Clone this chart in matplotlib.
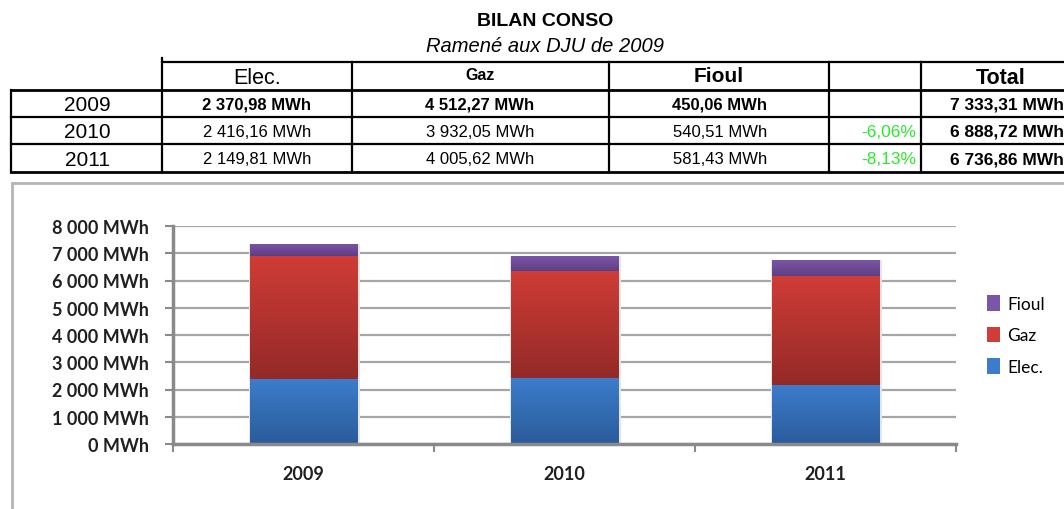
import numpy as np
import matplotlib
matplotlib.use('Agg')
import matplotlib.pyplot as plt
from matplotlib.patches import Rectangle
from matplotlib.lines import Line2D
from matplotlib.colors import LinearSegmentedColormap

# data
years = ['2009', '2010', '2011']
elec = [2370.98, 2416.16, 2149.81]
gaz = [4512.27, 3932.05, 4005.62]
fioul = [450.06, 540.51, 581.43]
evol = ['', '-6,06%', '-8,13%']
y_ticks = [0, 1000, 2000, 3000, 4000, 5000, 6000, 7000, 8000]


def fr(v):
    # french number format: 2 370,98
    s = f'{v:,.2f}'
    return s.replace(',', ' ').replace('.', ',')


W, H = 1064, 510
fig = plt.figure(figsize=(W / 100, H / 100), dpi=100)
fig.patch.set_facecolor('white')


def px(x, y):
    return x / W, 1 - y / H


# ---- table part ----
tf = 'Liberation Sans'
fig.text(*px(545, 21), 'BILAN CONSO', ha='center', va='center',
         fontsize=14, fontweight='bold', family=tf)
fig.text(*px(545, 47), 'Ramené aux DJU de 2009', ha='center', va='center',
         fontsize=14.5, style='italic', family=tf)

cols = [11, 162, 352, 609, 829, 921, 1085]
rows = [63, 91, 118, 145, 173]


def hline(x0, x1, y, lw=1.6):
    fig.add_artist(Line2D([x0 / W, x1 / W], [1 - y / H, 1 - y / H], color='black', lw=lw))


def vline(x, y0, y1, lw=1.6):
    fig.add_artist(Line2D([x / W, x / W], [1 - y0 / H, 1 - y1 / H], color='black', lw=lw))


hline(cols[1], cols[-1], rows[0])
for r in rows[1:]:
    hline(cols[0], cols[-1], r, lw=2.0 if r in (rows[1], rows[-1]) else 1.6)
vline(cols[0], rows[1], rows[-1])
vline(cols[1], 59, rows[-1])
for c in cols[2:-1]:
    vline(c, rows[0], rows[-1])

hdr_y = (rows[0] + rows[1]) / 2
fig.text(*px(257, hdr_y + 1), 'Elec.', ha='center', va='center', fontsize=15.5, family=tf)
fig.text(*px(480, hdr_y - 2), 'Gaz', ha='center', va='center', fontsize=11.5,
         fontweight='bold', family=tf)
fig.text(*px(719, hdr_y), 'Fioul', ha='center', va='center', fontsize=15,
         fontweight='bold', family=tf)
fig.text(*px(1001, hdr_y + 1), 'Total', ha='center', va='center', fontsize=15.5,
         fontweight='bold', family=tf)

for i, yr in enumerate(years):
    yc = (rows[i + 1] + rows[i + 2]) / 2 + 1
    w = 'bold' if i == 0 else 'normal'
    fig.text(*px(87, yc), yr, ha='center', va='center', fontsize=15, family=tf)
    fig.text(*px(257, yc), fr(elec[i]) + ' MWh', ha='center', va='center',
             fontsize=12, fontweight=w, family=tf)
    fig.text(*px(480, yc), fr(gaz[i]) + ' MWh', ha='center', va='center',
             fontsize=12, fontweight=w, family=tf)
    fig.text(*px(720, yc), fr(fioul[i]) + ' MWh', ha='center', va='center',
             fontsize=12, fontweight=w, family=tf)
    fig.text(*px(916, yc), evol[i], ha='right', va='center', fontsize=12.5,
             color='#2ee62e', family=tf)
    tot = elec[i] + gaz[i] + fioul[i]
    fig.text(*px(950, yc), fr(tot) + ' MWh', ha='left', va='center',
             fontsize=12.5, fontweight='bold', family=tf)

# ---- chart frame ----
fig.add_artist(Rectangle((12 / W, 1 - 520 / H), 1070 / W, 336 / H,
                         fill=False, edgecolor='#b4b4b4', lw=2))

ax = fig.add_axes([173 / W, 1 - 445 / H, (956 - 173) / W, (445 - 227) / H])
cf = 'Lato'
x = np.arange(len(years))
bw = 0.41
e = np.array(elec)
g = np.array(gaz)
f = np.array(fioul)

series = [
    ('Elec.', e, np.zeros(3), '#3c7cca', '#2b5c9c'),
    ('Gaz', g, e, '#d03c37', '#942a27'),
    ('Fioul', f, e + g, '#7b55a6', '#5e3f84'),
]
handles = {}
for name, vals, base, c_top, c_bot in series:
    bars = ax.bar(x, vals, bw, bottom=base, color=c_top, edgecolor='none',
                  zorder=3, label=name)
    handles[name] = bars
    cmap = LinearSegmentedColormap.from_list(name, [c_bot, c_top])
    grad = np.linspace(0, 1, 64).reshape(-1, 1)
    for b in bars:
        bx, by = b.get_x(), b.get_y()
        im = ax.imshow(grad, cmap=cmap, origin='lower', aspect='auto',
                       extent=[bx, bx + b.get_width(), by, by + b.get_height()],
                       zorder=3.5)
        im.set_clip_path(b)
    # faint shadow behind bars
    ax.bar(x + 0.004, vals, bw + 0.012, bottom=base, color='#e6e6e6',
           edgecolor='none', zorder=2.5)

ax.set_xlim(-0.5, 2.5)
ax.set_ylim(0, 8000)
ax.set_yticks(y_ticks)
ax.set_yticklabels([f'{v:,}'.replace(',', ' ') + ' MWh' for v in y_ticks],
                   fontsize=13, fontweight='bold', family=cf, color='#202020')
ax.set_xticks(x)
ax.set_xticklabels(years, fontsize=13, fontweight='bold', family=cf, color='#202020')
ax.set_xticks([-0.5, 0.5, 1.5, 2.5], minor=True)
ax.tick_params(axis='x', which='major', length=0, pad=15)
ax.tick_params(axis='x', which='minor', length=6, width=1.5, color='#8a8a8a')
ax.tick_params(axis='y', length=5.5, width=1.5, color='#8a8a8a', pad=12)
ax.grid(axis='y', color='#a6a6a6', lw=1.6, zorder=1)
ax.set_axisbelow(True)
for s in ['top', 'right']:
    ax.spines[s].set_visible(False)
for s in ['left', 'bottom']:
    ax.spines[s].set_color('#8a8a8a')
    ax.spines[s].set_linewidth(2.5)
    ax.spines[s].set_zorder(4)

fig.legend([handles['Fioul'], handles['Gaz'], handles['Elec.']],
           ['Fioul', 'Gaz', 'Elec.'], loc='center left',
           bbox_to_anchor=(971 / W, 1 - 336 / H), frameon=False,
           prop={'family': cf, 'size': 12.5}, handlelength=0.75,
           handleheight=1.0, handletextpad=0.45, labelspacing=0.85)

fig.savefig('out.png', dpi=100)
